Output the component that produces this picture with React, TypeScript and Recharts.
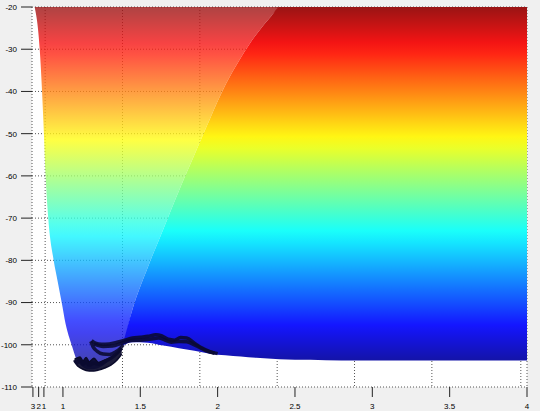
import React from 'react';
import { ComposedChart, Area, Line, XAxis, YAxis, CartesianGrid } from 'recharts';

// ---- tick labels ----
const X_TICKS = [0.806, 0.843, 0.877, 1, 1.5, 2, 2.5, 3, 3.5, 4];
const X_TICK_LABELS = ['3', '2', '1', '1', '1.5', '2', '2.5', '3', '3.5', '4'];
const Y_TICKS = [-110, -100, -90, -80, -70, -60, -50, -40, -30, -20];
const GRID_X = [0.885, 1.385, 1.885, 2.385, 2.885, 3.385, 3.883, 3.905, 3.933, 3.96];

// ---- potential surface (lower edge) ----
const xs = [0.817, 0.85, 0.865, 0.877, 0.888, 0.905, 0.94, 0.966, 0.992, 1.017, 1.056, 1.088, 1.12, 1.17, 1.22, 1.27, 1.31, 1.34, 1.37, 1.385, 1.45, 1.55, 1.65, 1.75, 1.85, 1.95, 2.05, 2.15, 2.25, 2.35, 2.4, 2.6, 2.8, 3.0, 3.5, 4.0];
const wellY = [-20, -30, -40, -50, -60, -70, -80, -85, -90, -95, -100, -103.5, -105, -105.8, -105.6, -104.6, -103.3, -102, -100.8, -100.2, -99.4, -99.5, -100.2, -100.8, -101.4, -102.1, -102.5, -102.8, -103.1, -103.3, -103.4, -103.55, -103.7, -103.7, -103.7, -103.7];
// boundary of the washed-out (back) part of the surface
const boundY: (number | null)[] = [null, null, null, null, null, null, null, null, null, null, null, null, null, null, null, null, null, null, null, -100.2, -91.5, -81.5, -72.5, -63.5, -55, -46.5, -38.5, -32, -26.5, -22, -20, null, null, null, null, null];
const TOP = -20;

// ---- trajectories ----
const traj1 = [
  { x: 1.185, y: -99.0 }, { x: 1.21, y: -99.6 }, { x: 1.25, y: -99.9 }, { x: 1.3, y: -99.8 }, { x: 1.35, y: -99.4 },
  { x: 1.4, y: -98.9 }, { x: 1.45, y: -98.4 }, { x: 1.5, y: -98.2 }, { x: 1.55, y: -98.0 }, { x: 1.6, y: -97.6 },
  { x: 1.64, y: -97.9 }, { x: 1.68, y: -98.7 }, { x: 1.72, y: -98.9 }, { x: 1.76, y: -98.3 }, { x: 1.8, y: -98.4 },
  { x: 1.85, y: -99.6 }, { x: 1.9, y: -100.8 }, { x: 1.95, y: -101.6 }, { x: 2.0, y: -102.1 },
];
const traj2 = [
  { x: 1.2, y: -99.8 }, { x: 1.26, y: -100.4 }, { x: 1.32, y: -100.3 }, { x: 1.38, y: -99.6 }, { x: 1.44, y: -99.0 },
  { x: 1.5, y: -98.9 }, { x: 1.56, y: -98.7 }, { x: 1.62, y: -98.4 }, { x: 1.66, y: -98.9 }, { x: 1.7, y: -99.4 },
  { x: 1.75, y: -99.2 }, { x: 1.8, y: -99.3 }, { x: 1.86, y: -100.2 }, { x: 1.92, y: -101.3 }, { x: 1.98, y: -102.0 },
];
const traj3 = [
  { x: 1.18, y: -99.2 }, { x: 1.195, y: -100.5 }, { x: 1.22, y: -101.5 }, { x: 1.26, y: -102.2 }, { x: 1.3, y: -102.3 },
  { x: 1.34, y: -101.7 }, { x: 1.37, y: -100.9 }, { x: 1.39, y: -100.0 },
];
const traj4 = [
  { x: 1.075, y: -103.6 }, { x: 1.09, y: -104.3 }, { x: 1.11, y: -103.5 }, { x: 1.13, y: -104.6 }, { x: 1.15, y: -104.0 },
  { x: 1.17, y: -104.8 }, { x: 1.2, y: -104.3 }, { x: 1.23, y: -104.6 }, { x: 1.27, y: -104.0 }, { x: 1.31, y: -103.2 },
  { x: 1.35, y: -102.0 }, { x: 1.38, y: -100.8 },
];
const TRAJS = [traj1, traj2, traj3, traj4];
// dark blob of trajectories at the bottom of the well: [low, high]
const blobX = [1.075, 1.09, 1.11, 1.13, 1.15, 1.17, 1.2, 1.23, 1.27, 1.31, 1.35, 1.38];
const blobLow = [-103.8, -104.8, -105.4, -105.8, -106.1, -106.2, -106.2, -106.0, -105.5, -104.8, -103.6, -102.2];
const blobHigh = [-103.4, -103.2, -102.9, -103.8, -103.0, -104.0, -103.2, -104.2, -103.6, -103.0, -102.0, -100.8];

// colormap range
const CMIN = -106.5;
const CMAX = -18.5;

const clamp = (v: number) => Math.max(0, Math.min(1, v));
function jetColor(v: number): string {
  const t = clamp((v - CMIN) / (CMAX - CMIN));
  const r = clamp(1.5 - Math.abs(4 * t - 3));
  const g = clamp(1.5 - Math.abs(4 * t - 2));
  const b = clamp(1.5 - Math.abs(4 * t - 1));
  const m = (c: number) => Math.round((c * 0.92 + 0.08) * 255);
  return `rgb(${m(r)},${m(g)},${m(b)})`;
}

function gradientStops(top: number, bottom: number) {
  const n = 30;
  const out = [];
  for (let k = 0; k <= n; k++) {
    const off = k / n;
    const v = top - off * (top - bottom);
    out.push(<stop key={k} offset={off} stopColor={jetColor(v)} />);
  }
  return out;
}

const washedData = xs
  .map((x, i) => {
    if (x <= 1.385) return { x, r: [wellY[i], TOP] };
    if (boundY[i] != null) return { x, r: [boundY[i] as number, TOP] };
    return null;
  })
  .filter(Boolean) as { x: number; r: number[] }[];

const solidData = xs
  .map((x, i) => (x >= 1.385 ? { x, r: [wellY[i], boundY[i] != null ? (boundY[i] as number) : TOP] } : null))
  .filter(Boolean) as { x: number; r: number[] }[];

const blobData = blobX.map((x, i) => ({ x, r: [blobLow[i], blobHigh[i]] }));

const washedMin = Math.min(...washedData.map((d) => d.r[0]));
const solidMin = Math.min(...solidData.map((d) => d.r[0]));

const fmtX = (v: number) => {
  const i = X_TICKS.indexOf(v);
  return i >= 0 ? X_TICK_LABELS[i] : String(v);
};

const tickStyle = { fontSize: 8, fill: '#000', fontFamily: '"Liberation Sans", Arial, sans-serif' };

export default function App() {
  return (
    <div style={{ position: 'absolute', left: 0, top: 0, width: 540, height: 411, background: '#f0f0f0' }}>
      <ComposedChart width={540} height={411} margin={{ top: 7, right: 13, bottom: 0, left: 0 }}>
        <defs>
          <linearGradient id="gWashed" x1="0" y1="0" x2="0" y2="1">
            {gradientStops(TOP, washedMin)}
          </linearGradient>
          <linearGradient id="gSolid" x1="0" y1="0" x2="0" y2="1">
            {gradientStops(TOP, solidMin)}
          </linearGradient>
        </defs>
        <XAxis
          dataKey="x"
          type="number"
          domain={[0.8, 4]}
          allowDataOverflow
          ticks={X_TICKS}
          tickFormatter={fmtX}
          interval={0}
          height={24}
          tickSize={10}
          tickMargin={6}
          axisLine={false}
          tickLine={{ stroke: '#222' }}
          tick={tickStyle}
        />
        <XAxis xAxisId="grid" dataKey="x" type="number" domain={[0.8, 4]} allowDataOverflow ticks={GRID_X} hide />
        <YAxis
          type="number"
          domain={[-110, -20]}
          allowDataOverflow
          ticks={Y_TICKS}
          interval={0}
          width={32}
          tickSize={11}
          tickMargin={4}
          axisLine={false}
          tickLine={{ stroke: '#222' }}
          tick={tickStyle}
        />
        <CartesianGrid xAxisId="grid" fill="#ffffff" stroke="#555" strokeDasharray="1 2" />
        <Area
          data={washedData}
          dataKey="r"
          type="monotone"
          stroke="none"
          fill="url(#gWashed)"
          fillOpacity={0.8}
          isAnimationActive={false}
        />
        <Area
          data={solidData}
          dataKey="r"
          type="monotone"
          stroke="none"
          fill="url(#gSolid)"
          fillOpacity={1}
          isAnimationActive={false}
        />
        <Area
          data={blobData}
          dataKey="r"
          type="monotone"
          stroke="#0a0a2a"
          strokeWidth={1.5}
          fill="#0a0a2a"
          fillOpacity={0.92}
          isAnimationActive={false}
        />
        {TRAJS.map((t, i) => (
          <Line
            key={i}
            data={t}
            dataKey="y"
            type="monotone"
            stroke="#0a0a30"
            strokeWidth={3.5}
            strokeOpacity={0.88}
            dot={false}
            activeDot={false}
            isAnimationActive={false}
          />
        ))}
      </ComposedChart>
    </div>
  );
}
